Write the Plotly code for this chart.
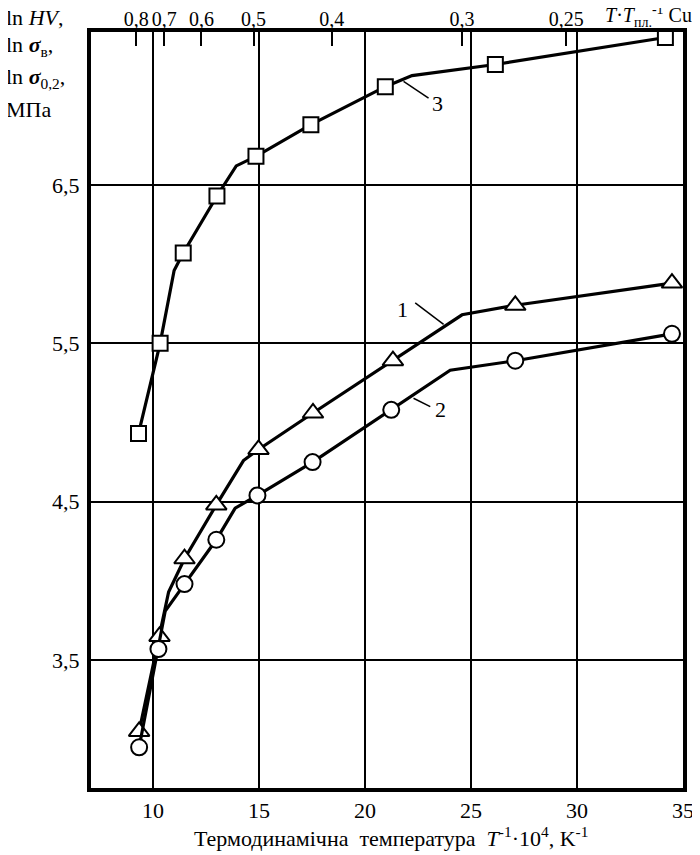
import plotly.graph_objects as go

# ---- data (x = T^-1*10^4, K^-1 ; y = ln value) ----
# curve 1 (triangles): line vertices and measured points
x1_line = [9.35, 10.31, 10.74, 11.49, 12.99, 14.27, 14.98, 17.55, 21.32, 24.58, 27.09, 34.48]
y1_line = [3.05, 3.65, 3.93, 4.14, 4.48, 4.76, 4.83, 5.06, 5.39, 5.68, 5.74, 5.88]
x1_pts = [9.35, 10.31, 11.49, 12.99, 14.98, 17.55, 21.32, 27.09, 34.48]
y1_pts = [3.05, 3.65, 4.14, 4.48, 4.83, 5.06, 5.39, 5.74, 5.88]

# curve 2 (circles)
x2_line = [9.35, 10.26, 10.58, 11.49, 12.99, 13.88, 14.93, 17.53, 21.24, 24.02, 27.09, 34.48]
y2_line = [2.95, 3.57, 3.81, 3.98, 4.26, 4.46, 4.54, 4.75, 5.08, 5.33, 5.39, 5.56]
x2_pts = [9.35, 10.26, 11.49, 12.99, 14.93, 17.53, 21.24, 27.09, 34.48]
y2_pts = [2.95, 3.57, 3.98, 4.26, 4.54, 4.75, 5.08, 5.39, 5.56]

# curve 3 (squares)
x3_line = [9.32, 10.34, 11.00, 11.43, 13.02, 13.93, 14.86, 17.45, 20.96, 22.22, 26.15, 34.17]
y3_line = [4.93, 5.50, 5.96, 6.07, 6.43, 6.62, 6.68, 6.88, 7.12, 7.19, 7.26, 7.43]
x3_pts = [9.32, 10.34, 11.43, 13.02, 14.86, 17.45, 20.96, 26.15, 34.17]
y3_pts = [4.93, 5.50, 6.07, 6.43, 6.68, 6.88, 7.12, 7.26, 7.43]

x_ticks = [10, 15, 20, 25, 30, 35]
y_ticks = [3.5, 4.5, 5.5, 6.5]
y_ticktext = ["3,5", "4,5", "5,5", "6,5"]

# top axis: homologous temperature T/T_melt for Cu (T_melt = 1356 K)
t_melt_cu = 1356.0
homol = [0.8, 0.7, 0.6, 0.5, 0.4, 0.3, 0.25]
homol_text = ["0,8", "0,7", "0,6", "0,5", "0,4", "0,3", "0,25"]
homol_pos = [1e4 / (h * t_melt_cu) for h in homol]

XR = [7.08, 35.0]
YR = [2.693, 7.465]
FONT = "Liberation Serif"
FS = 22
PW, PH = 592, 756
PL, PT = 91, 32  # plot-area left/top in page pixels

fig = go.Figure()
LW = 3.2
for xl, yl, xp, yp, sym, sz in [
    (x1_line, y1_line, x1_pts, y1_pts, "triangle-up", 18),
    (x2_line, y2_line, x2_pts, y2_pts, "circle", 16),
    (x3_line, y3_line, x3_pts, y3_pts, "square", 15),
]:
    fig.add_trace(go.Scatter(x=xl, y=yl, mode="lines",
                             line=dict(color="black", width=LW),
                             showlegend=False, hoverinfo="skip"))
    fig.add_trace(go.Scatter(x=xp, y=yp, mode="markers",
                             marker=dict(symbol=sym, size=sz, color="white",
                                         line=dict(color="black", width=2)),
                             showlegend=False))

# invisible trace for top axis
fig.add_trace(go.Scatter(x=homol_pos, y=[None] * len(homol_pos), xaxis="x2",
                         mode="markers", showlegend=False, hoverinfo="skip"))

# the page body has an 8px margin, so the figure is offset by (8, 8)
fig.update_layout(
    width=692, height=855,
    margin=dict(l=PL - 8, r=17, t=PT - 8, b=75),
    paper_bgcolor="white", plot_bgcolor="white",
    font=dict(family=FONT, size=FS, color="black"),
    xaxis=dict(range=XR, tickvals=x_ticks, ticks="", showgrid=True,
               gridcolor="black", gridwidth=1.7, zeroline=False, automargin=False,
               showline=True, linecolor="black", linewidth=4, mirror=True,
               tickangle=0, tickfont=dict(family=FONT, size=FS)),
    xaxis2=dict(range=XR, overlaying="x", side="top", tickvals=homol_pos,
                ticktext=homol_text, ticks="inside", ticklen=14, tickwidth=2,
                tickcolor="black", showgrid=False, zeroline=False, automargin=False,
                showline=False, tickangle=0, ticklabelstandoff=1,
                tickfont=dict(family=FONT, size=20)),
    yaxis=dict(range=YR, tickvals=y_ticks, ticktext=y_ticktext, ticks="",
               showgrid=True, gridcolor="black", gridwidth=1.7, zeroline=False,
               automargin=False, ticklabelstandoff=3,
               showline=True, linecolor="black", linewidth=4, mirror=True,
               tickfont=dict(family=FONT, size=FS)),
)

ann = []
# y-axis title block
ytitle = ["ln <i>HV</i>,", "ln <b><i>σ</i></b><sub>в</sub>,",
          "ln <b><i>σ</i></b><sub>0,2</sub>,", "МПа"]
ypix = [18, 46, 78, 110]
for t, yp in zip(ytitle, ypix):
    ann.append(dict(text=t, xref="paper", yref="paper",
                    x=(4 - PL) / PW, y=1 + (PT - yp) / PH,
                    xanchor="left", yanchor="middle", showarrow=False,
                    font=dict(family=FONT, size=FS)))
# top axis name
ann.append(dict(text="<i>T</i>·<i>T</i><sub>пл.</sub><sup>-1</sup> Cu",
                xref="paper", yref="paper", x=1 + 11 / PW, y=1 + 16 / PH,
                xanchor="right", yanchor="middle", showarrow=False,
                font=dict(family=FONT, size=20)))
# x-axis title
ann.append(dict(text="Термодинамічна&nbsp;&nbsp;температура&nbsp;&nbsp;<i>T</i><sup>-1</sup>·10<sup>4</sup>, K<sup>-1</sup>",
                xref="paper", yref="paper", x=(391 - PL) / PW, y=-(837 - 788) / PH,
                xanchor="center", yanchor="middle", showarrow=False,
                font=dict(family=FONT, size=FS)))
# curve labels
for t, x, y in [("1", 21.79, 5.715), ("2", 23.55, 5.08), ("3", 23.4, 7.016)]:
    ann.append(dict(text=t, x=x, y=y, xref="x", yref="y", showarrow=False,
                    font=dict(family=FONT, size=FS)))
fig.update_layout(annotations=ann)

shapes = []
for x0, y0, x1, y1 in [(22.37, 5.755, 23.71, 5.62), (22.29, 5.153, 23.08, 5.10),
                       (21.82, 7.153, 23.0, 7.048)]:
    shapes.append(dict(type="line", x0=x0, y0=y0, x1=x1, y1=y1, xref="x", yref="y",
                       line=dict(color="black", width=1.5)))
fig.update_layout(shapes=shapes)

fig.write_html("out.html")
